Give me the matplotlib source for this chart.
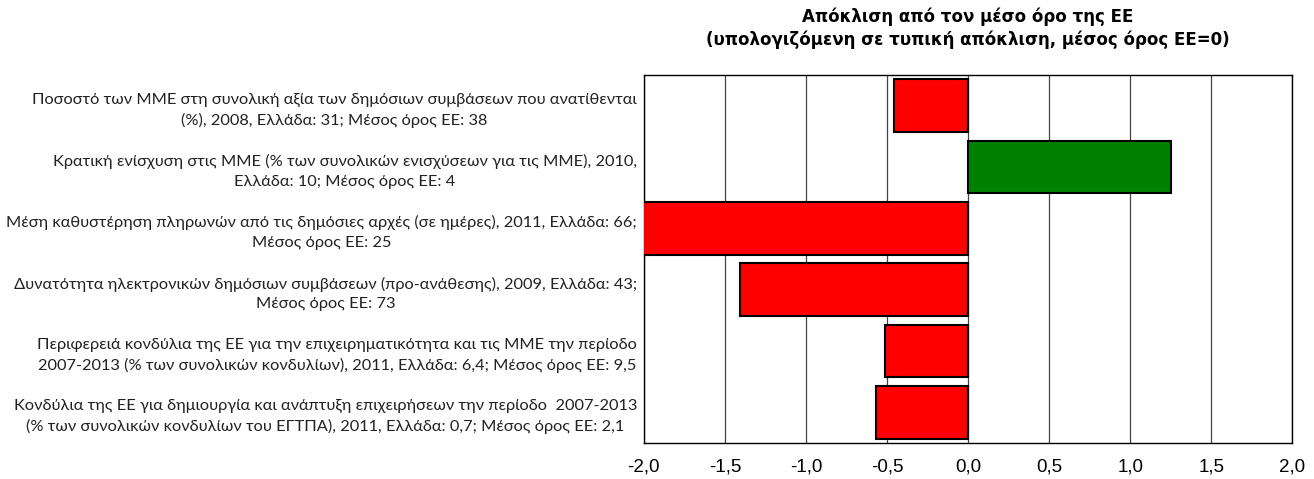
import matplotlib
matplotlib.use("Agg")
import matplotlib.pyplot as plt

labels = [
    "Ποσοστό των ΜΜΕ στη συνολική αξία των δημόσιων συμβάσεων που ανατίθενται\n(%), 2008, Ελλάδα: 31; Μέσος όρος ΕΕ: 38",
    "Κρατική ενίσχυση στις ΜΜΕ (% των συνολικών ενισχύσεων για τις ΜΜΕ), 2010,\nΕλλάδα: 10; Μέσος όρος ΕΕ: 4",
    "Μέση καθυστέρηση πληρωνών από τις δημόσιες αρχές (σε ημέρες), 2011, Ελλάδα: 66;\nΜέσος όρος ΕΕ: 25",
    "Δυνατότητα ηλεκτρονικών δημόσιων συμβάσεων (προ-ανάθεσης), 2009, Ελλάδα: 43;\nΜέσος όρος ΕΕ: 73",
    "Περιφερειά κονδύλια της ΕΕ για την επιχειρηματικότητα και τις ΜΜΕ την περίοδο\n2007-2013 (% των συνολικών κονδυλίων), 2011, Ελλάδα: 6,4; Μέσος όρος ΕΕ: 9,5",
    "Κονδύλια της ΕΕ για δημιουργία και ανάπτυξη επιχειρήσεων την περίοδο  2007-2013\n(% των συνολικών κονδυλίων του ΕΓΤΠΑ), 2011, Ελλάδα: 0,7; Μέσος όρος ΕΕ: 2,1",
]
values = [-0.46, 1.25, -2.05, -1.41, -0.51, -0.57]
xticks = [-2.0, -1.5, -1.0, -0.5, 0.0, 0.5, 1.0, 1.5, 2.0]
title = "Απόκλιση από τον μέσο όρο της ΕΕ\n(υπολογιζόμενη σε τυπική απόκλιση, μέσος όρος ΕΕ=0)"

tick_font = ["Liberation Sans", "DejaVu Sans"]
label_font = ["Lato", "DejaVu Sans"]

fig = plt.figure(figsize=(13.14, 4.79), dpi=100)
ax = fig.add_axes([0.490, 0.0752, 0.4935, 0.768])

colors = ["#008000" if v > 0 else "#FF0000" for v in values]
ypos = list(range(len(values)))
ax.barh(ypos, values, height=0.86, color=colors, edgecolor="black", linewidth=1.5, zorder=3)

ax.set_xlim(-2, 2)
ax.set_ylim(len(values) - 0.5, -0.5)
ax.set_xticks(xticks)
ax.set_xticklabels([f"{t:.1f}".replace(".", ",") for t in xticks], family=tick_font, fontsize=13.5)
ax.tick_params(axis="x", length=0, pad=11)
ax.set_yticks(ypos)
ax.set_yticklabels(labels, family=label_font, fontsize=11.8, multialignment="center",
                   color="#222222", linespacing=1.5)
ax.tick_params(axis="y", length=0, pad=5)

ax.grid(axis="x", color="#444444", linewidth=0.9, zorder=0)
for s in ax.spines.values():
    s.set_color("black")
    s.set_linewidth(1.0)

fig.text(0.7367, 0.985, title, ha="center", va="top", family=["DejaVu Sans"], fontsize=12,
         fontweight="bold", linespacing=1.35)

fig.savefig("out.png", dpi=100)
